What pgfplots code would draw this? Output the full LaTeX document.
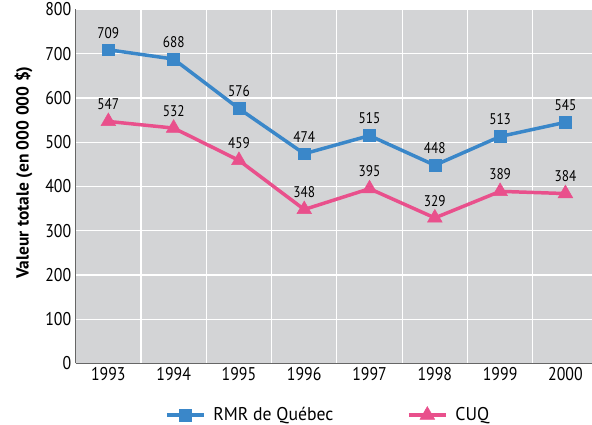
\documentclass[border=0pt]{standalone}
\usepackage{pgfplots}
\pgfplotsset{compat=1.18}
\usetikzlibrary{calc}
\usepackage{fontspec}
\setmainfont{PT Sans}[FakeStretch=0.86]
\newfontfamily\legf{PT Sans}[FakeStretch=0.96]
\newfontfamily\labf{PT Sans}
\definecolor{bgc}{HTML}{D3D4D6}
\definecolor{blu}{HTML}{3A87C9}
\definecolor{pnk}{HTML}{E9508C}
\definecolor{spine}{HTML}{666666}
\begin{document}
\begin{tikzpicture}
\begin{axis}[
  scale only axis,
  width=516.3bp, height=354bp,
  xmin=-0.5, xmax=7.407, ymin=0, ymax=800,
  xtick={0,...,7},
  xticklabels={1993,1994,1995,1996,1997,1998,1999,2000},
  minor xtick={0.5,1.5,...,6.5},
  ytick={0,100,...,800},
  /pgf/number format/assume math mode=true,
  ticklabel style={font=\fontsize{18.5}{20}\selectfont, text=black},
  yticklabel style={xshift=-1pt},
  major tick length=0pt, minor tick length=0pt,
  ymajorgrids, xminorgrids,
  grid style={white, line width=1.2pt},
  minor grid style={white, line width=1.2pt},
  axis background/.style={fill=bgc},
  axis x line*=bottom, axis y line*=left,
  axis line style={spine, line width=1.5pt, -},
  ylabel={\textbf{Valeur totale (en 000 000 \$)}},
  ylabel style={font=\labf\fontsize{17.5}{19}\selectfont, xshift=14pt, yshift=6pt},
  legend style={at={(0.489,-0.113)}, anchor=north, draw=none, fill=none,
    legend columns=2, font=\legf\fontsize{18.5}{20}\selectfont,
    /tikz/every even column/.append style={column sep=72pt}},
  legend cell align=left,
  legend image code/.code={\draw[mark repeat=2,mark phase=2] plot coordinates {(0cm,0cm) (0.65cm,0cm) (1.3cm,0cm)};},
  nodes near coords,
  every node near coord/.append style={font=\fontsize{15.5}{17}\selectfont, text=black, yshift=8pt},
  clip=false,
]
\addplot[blu, line width=3.5pt, mark=square*, mark size=6pt, mark options={line width=0.5pt}] coordinates {
(0,709) (1,688) (2,576) (3,474) (4,515) (5,448) (6,513) (7,545)};
\addlegendentry{\hspace{6pt}RMR de Québec}
\addplot[pnk, line width=3.5pt, mark=triangle*, mark size=8.5pt, mark options={line width=0.5pt}] coordinates {
(0,547) (1,532) (2,459) (3,348) (4,395) (5,329) (6,389) (7,384)};
\addlegendentry{\hspace{6pt}CUQ}
\coordinate (A) at (rel axis cs:0,0);
\coordinate (B) at (rel axis cs:1,1);
\end{axis}
\pgfresetboundingbox
\path ($(A)+(-75.7bp,-61.5bp)$) rectangle ($(B)+(0bp,9.5bp)$);
\end{tikzpicture}
\end{document}
